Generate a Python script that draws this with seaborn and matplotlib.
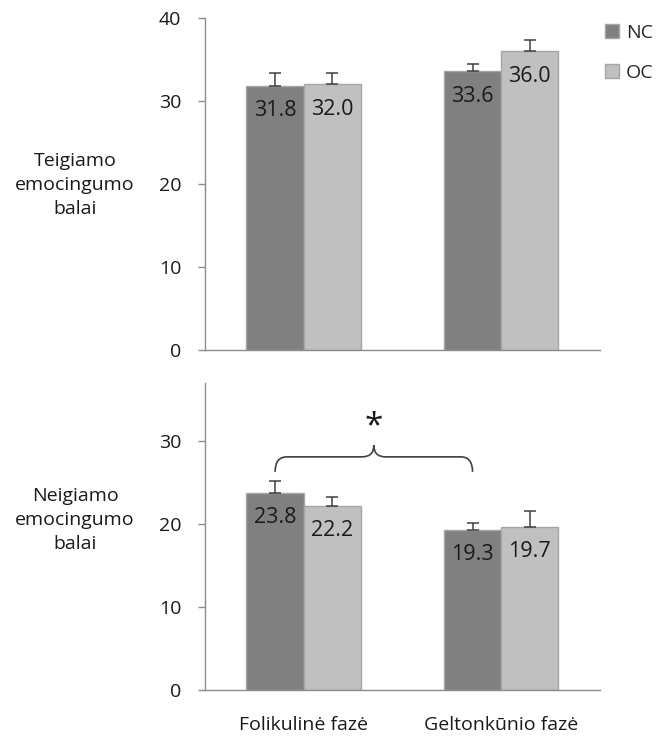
import numpy as np
import pandas as pd
import matplotlib
matplotlib.use("Agg")
import matplotlib.pyplot as plt
from matplotlib.path import Path
from matplotlib.patches import PathPatch, Patch
import seaborn as sns

# ---- data ----
phases = ["Folikulinė fazė", "Geltonkūnio fazė"]
groups = ["NC", "OC"]
pos_nc = [31.8, 33.6]
pos_oc = [32.0, 36.0]
pos_nc_err = [1.6, 0.9]
pos_oc_err = [1.4, 1.3]
neg_nc = [23.8, 19.3]
neg_oc = [22.2, 19.7]
neg_nc_err = [1.4, 0.8]
neg_oc_err = [1.1, 1.9]
row_labels = ["Teigiamo\nemocingumo\nbalai", "Neigiamo\nemocingumo\nbalai"]
top_ticks = [0, 10, 20, 30, 40]
bottom_ticks = [0, 10, 20, 30]
signif_mark = "*"

sns.set_theme(style="white")
FONT = ["Open Sans", "DejaVu Sans"]
plt.rcParams["font.family"] = FONT

colors = {"NC": "#808080", "OC": "#C0C0C0"}
edge = "#A6A6A6"
axis_gray = "#8C8C8C"
txt = "#1a1a1a"
fs = 14
fs_bar = 15.5

fig = plt.figure(figsize=(6.56, 7.38), dpi=100)
ax_top = fig.add_axes([0.3125, 0.5257, 0.602, 0.4499])
ax_bot = fig.add_axes([0.3125, 0.0650, 0.602, 0.4160])


def draw(ax, nc, oc, nc_err, oc_err, ylim, ticks, show_xlabels):
    df = pd.DataFrame({
        "phase": phases * 2,
        "group": ["NC"] * 2 + ["OC"] * 2,
        "value": list(nc) + list(oc),
        "err": list(nc_err) + list(oc_err),
    })
    sns.barplot(data=df, x="phase", y="value", hue="group", order=phases,
                hue_order=groups, palette=colors, width=0.58, gap=0,
                edgecolor=edge, linewidth=1.0, errorbar=None, legend=False,
                ax=ax, saturation=1)
    bars = [p for p in ax.patches if p.get_height() > 0]
    centers = {}
    for p, (_, row) in zip(bars, df.iterrows()):
        cx = p.get_x() + p.get_width() / 2
        h = p.get_height()
        centers[(row["group"], row["phase"])] = (cx, h)
        ax.errorbar(cx, h, yerr=[[0], [row["err"]]], fmt="none",
                    ecolor="#404040", elinewidth=1.1, capsize=4, capthick=1.1,
                    zorder=3)
        ax.text(cx, h - 3.0, f"{h:.1f}", ha="center", va="center",
                fontsize=fs_bar, color=txt, zorder=4)
    ax.set_ylim(*ylim)
    ax.set_xlim(-0.5, 1.5)
    ax.set_yticks(ticks)
    ax.set_yticklabels([str(t) for t in ticks], fontsize=fs, color=txt)
    ax.set_xticks([0, 1])
    if show_xlabels:
        ax.set_xticklabels(phases, fontsize=fs, color=txt)
    else:
        ax.set_xticklabels(["", ""])
    ax.set_xticks([-0.5, 0.5, 1.5], minor=True)
    ax.tick_params(axis="x", which="major", length=0, pad=19)
    ax.tick_params(axis="x", which="minor", length=7, width=1,
                   color=axis_gray, direction="out")
    ax.tick_params(axis="y", length=5, width=1, color=axis_gray,
                   direction="out", pad=12, left=True)
    for s in ["top", "right"]:
        ax.spines[s].set_visible(False)
    for s in ["left", "bottom"]:
        ax.spines[s].set_color(axis_gray)
        ax.spines[s].set_linewidth(1.0)
    ax.set_xlabel("")
    ax.set_ylabel("")
    return centers


draw(ax_top, pos_nc, pos_oc, pos_nc_err, pos_oc_err, (0, 40), top_ticks, False)
cent = draw(ax_bot, neg_nc, neg_oc, neg_nc_err, neg_oc_err, (0, 37),
            bottom_ticks, True)

# row labels
fig.text(75 / 656, 1 - 185 / 738, row_labels[0], ha="center", va="center",
         fontsize=fs, linespacing=1.45, color=txt)
fig.text(75 / 656, 1 - 520 / 738, row_labels[1], ha="center", va="center",
         fontsize=fs, linespacing=1.45, color=txt)

# significance brace between NC bars
x1 = cent[("NC", phases[0])][0]
x2 = cent[("NC", phases[1])][0]
y_leg = max(neg_nc[0] + neg_nc_err[0], neg_nc[1]) + 1.1
y_top = y_leg + 1.8
y_peak = y_top + 1.4
xm = (x1 + x2) / 2
dx = 0.06
verts = [
    (x1, y_leg), (x1, y_top), (x1 + dx, y_top),
    (xm - dx, y_top), (xm, y_top), (xm, y_peak),
    (xm, y_top), (xm + dx, y_top),
    (x2 - dx, y_top), (x2, y_top), (x2, y_leg),
]
codes = [Path.MOVETO, Path.CURVE3, Path.CURVE3,
         Path.LINETO, Path.CURVE3, Path.CURVE3,
         Path.CURVE3, Path.CURVE3,
         Path.LINETO, Path.CURVE3, Path.CURVE3]
ax_bot.add_patch(PathPatch(Path(verts, codes), facecolor="none",
                           edgecolor="#404040", lw=1.2, zorder=5))
ax_bot.text(xm, y_peak + 0.2, signif_mark, ha="center", va="bottom",
            fontsize=24, color=txt)

# legend
handles = [Patch(facecolor=colors[g], edgecolor=edge, label=g) for g in groups]
fig.legend(handles=handles, loc="upper left", bbox_to_anchor=(0.922, 0.968),
           frameon=False, fontsize=fs, handlelength=0.75, handleheight=0.75,
           handletextpad=0.35, labelspacing=1.15, borderaxespad=0,
           borderpad=0)

fig.savefig("out.png", dpi=100)
